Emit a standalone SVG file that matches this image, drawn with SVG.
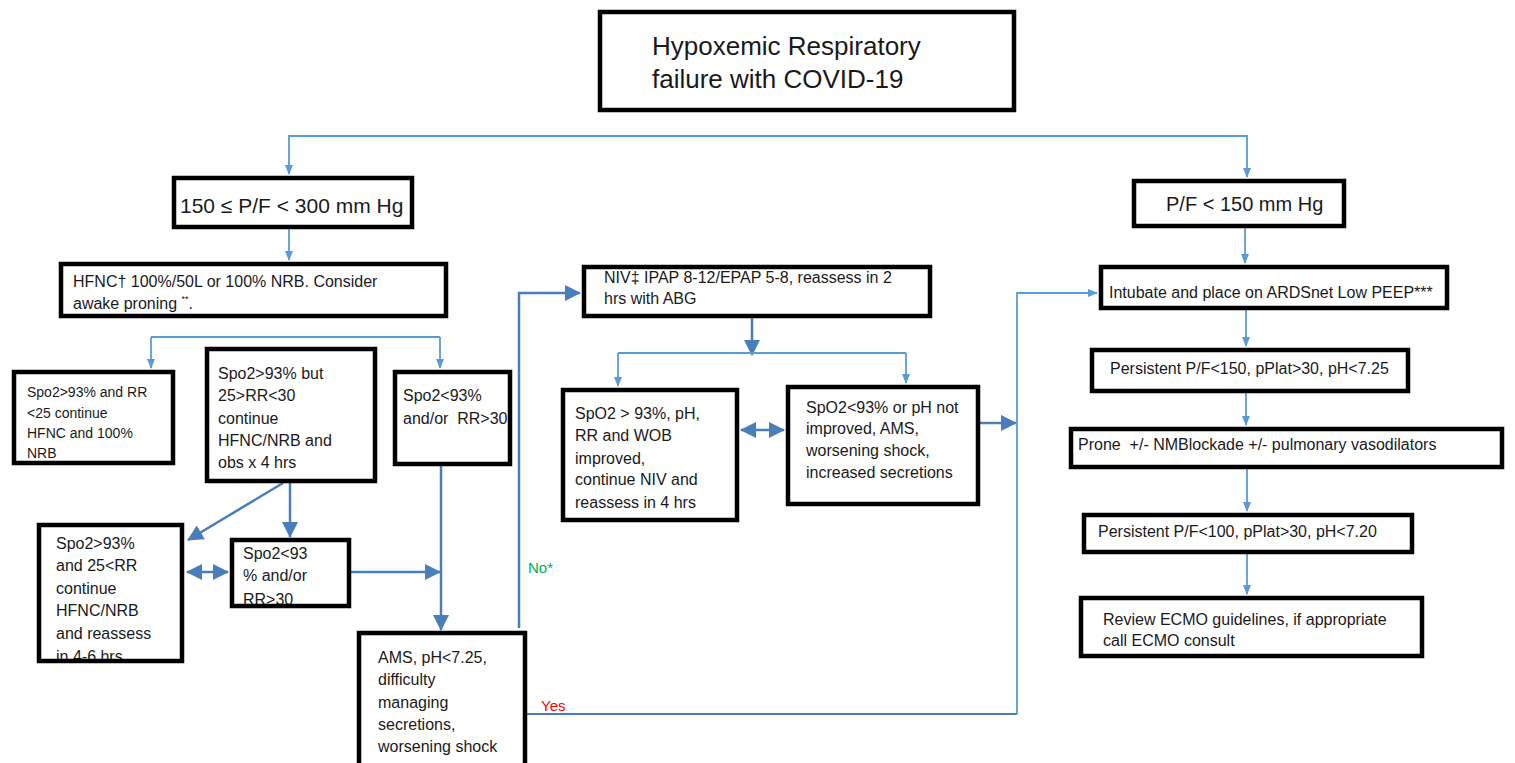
<svg xmlns="http://www.w3.org/2000/svg" width="1515" height="763" viewBox="0 0 1515 763">
<style>
.box{fill:#fff;stroke:#000;stroke-width:4.5}
.t{font-family:"Liberation Sans",Arial,sans-serif;font-size:16px;fill:#1a1a1a}
.s14{font-size:14px}
.lt{fill:none;stroke:#5b9bd5;stroke-width:1.8}
.dk{fill:none;stroke:#4a7ebb;stroke-width:2.5}
</style>
<defs>
<marker id="sm" markerUnits="userSpaceOnUse" markerWidth="10" markerHeight="10" viewBox="0 0 10 10" refX="9" refY="5" orient="auto-start-reverse"><path d="M0,1 L10,5 L0,9 z" fill="#5b9bd5"/></marker>
<marker id="lg" markerUnits="userSpaceOnUse" markerWidth="16" markerHeight="16" viewBox="0 0 16 16" refX="15" refY="8" orient="auto-start-reverse"><path d="M0,0 L16,8 L0,16 z" fill="#4a7ebb"/></marker>
</defs>
<rect width="1515" height="763" fill="#fff"/>
<g id="connectors">
<path class="lt" d="M700,136 H289 V174" marker-end="url(#sm)"/>
<path class="lt" d="M700,136 H1247 V177" marker-end="url(#sm)"/>
<path class="lt" d="M289,229 V260" marker-end="url(#sm)"/>
<path class="lt" d="M151,337 H440"/>
<path class="lt" d="M151,337 V368" marker-end="url(#sm)"/>
<path class="lt" d="M440,337 V368" marker-end="url(#sm)"/>
<path class="dk" d="M283,483 L188,540" marker-end="url(#lg)"/>
<path class="dk" d="M290,483 V537" marker-end="url(#lg)"/>
<path class="dk" d="M187,572 H228" marker-start="url(#lg)" marker-end="url(#lg)"/>
<path class="dk" d="M351,572 H440" marker-end="url(#lg)"/>
<path class="dk" d="M441,466 V630" marker-end="url(#lg)"/>
<path class="dk" d="M519,628 V293 H580" marker-end="url(#lg)"/>
<path class="dk" d="M752,318 V355" marker-end="url(#lg)"/>
<path class="lt" d="M618,353 H906"/>
<path class="lt" d="M618,353 V386" marker-end="url(#sm)"/>
<path class="lt" d="M906,353 V383" marker-end="url(#sm)"/>
<path class="dk" d="M741,430 H784" marker-start="url(#lg)" marker-end="url(#lg)"/>
<path class="dk" d="M980,423 H1016" marker-end="url(#lg)"/>
<path class="dk" d="M527,714 H1017" style="stroke-width:2"/>
<path class="lt" d="M1017,714 V293 H1097" marker-end="url(#sm)"/>
<path class="lt" d="M1245,228 V263" marker-end="url(#sm)"/>
<path class="lt" d="M1246,310 V346" marker-end="url(#sm)"/>
<path class="lt" d="M1246,393 V425" marker-end="url(#sm)"/>
<path class="lt" d="M1247,469 V511" marker-end="url(#sm)"/>
<path class="lt" d="M1247,554 V594" marker-end="url(#sm)"/>
<text class="t" x="528" y="573" style="fill:#00b050;font-size:15px">No*</text>
<text class="t" x="541" y="711" style="fill:#ff0000;font-size:15px">Yes</text>
</g>
<g id="title">
<rect class="box" x="600" y="12" width="414" height="98"/>
<text class="t" x="652" y="55" style="font-size:26px">Hypoxemic Respiratory</text>
<text class="t" x="652" y="88" style="font-size:26px">failure with COVID-19</text>
</g>
<g id="pf300">
<rect class="box" x="174" y="178" width="238" height="49"/>
<text class="t" x="180" y="213" style="font-size:21px">150 ≤ P/F &lt; 300 mm Hg</text>
</g>
<g id="hfnc">
<rect class="box" x="61" y="264" width="385" height="52"/>
<text class="t" x="73" y="287">HFNC† 100%/50L or 100% NRB. Consider</text>
<text class="t" x="73" y="309">awake proning <tspan style="font-size:9px" dy="-7">**</tspan><tspan dy="7">.</tspan></text>
</g>
<g id="b1">
<rect class="box" x="14" y="372" width="159" height="91"/>
<text class="t s14" x="27" y="397">Spo2&gt;93% and RR</text>
<text class="t s14" x="27" y="418">&lt;25 continue</text>
<text class="t s14" x="27" y="438">HFNC and 100%</text>
<text class="t s14" x="27" y="458">NRB</text>
</g>
<g id="b2">
<rect class="box" x="207" y="349" width="168" height="132"/>
<text class="t" x="218" y="379">Spo2&gt;93% but</text>
<text class="t" x="218" y="401">25&gt;RR&lt;30</text>
<text class="t" x="218" y="424">continue</text>
<text class="t" x="218" y="446">HFNC/NRB and</text>
<text class="t" x="218" y="468">obs x 4 hrs</text>
</g>
<g id="b3">
<rect class="box" x="395" y="372" width="115" height="92"/>
<text class="t" x="403" y="401">Spo2&lt;93%</text>
<text class="t" x="403" y="424" xml:space="preserve">and/or  RR&gt;30</text>
</g>
<g id="b4">
<text class="t" x="56" y="549">Spo2&gt;93%</text>
<text class="t" x="56" y="571">and 25&lt;RR</text>
<text class="t" x="56" y="594">continue</text>
<text class="t" x="56" y="616">HFNC/NRB</text>
<text class="t" x="56" y="639">and reassess</text>
<text class="t" x="56" y="662">in 4-6 hrs</text>
<rect class="box" x="39" y="525" width="143" height="136" style="fill:none"/>
</g>
<g id="b5">
<text class="t" x="243" y="559">Spo2&lt;93</text>
<text class="t" x="243" y="581">% and/or</text>
<text class="t" x="243" y="605">RR&gt;30</text>
<rect class="box" x="232" y="540" width="117" height="66" style="fill:none"/>
</g>
<g id="ams">
<rect class="box" x="359" y="633" width="166" height="140"/>
<text class="t" x="378" y="663">AMS, pH&lt;7.25,</text>
<text class="t" x="378" y="685">difficulty</text>
<text class="t" x="378" y="708">managing</text>
<text class="t" x="378" y="730">secretions,</text>
<text class="t" x="378" y="752">worsening shock</text>
</g>
<g id="niv">
<rect class="box" x="584" y="267" width="346" height="49"/>
<text class="t" x="604" y="283">NIV‡ IPAP 8-12/EPAP 5-8, reassess in 2</text>
<text class="t" x="604" y="304">hrs with ABG</text>
</g>
<g id="b6">
<rect class="box" x="563" y="390" width="174" height="130"/>
<text class="t" x="575" y="419">SpO2 &gt; 93%, pH,</text>
<text class="t" x="575" y="441">RR and WOB</text>
<text class="t" x="575" y="464">improved,</text>
<text class="t" x="575" y="485">continue NIV and</text>
<text class="t" x="575" y="508">reassess in 4 hrs</text>
</g>
<g id="b7">
<rect class="box" x="788" y="387" width="190" height="117"/>
<text class="t" x="806" y="413">SpO2&lt;93% or pH not</text>
<text class="t" x="806" y="434">improved, AMS,</text>
<text class="t" x="806" y="456">worsening shock,</text>
<text class="t" x="806" y="478">increased secretions</text>
</g>
<g id="pf150">
<rect class="box" x="1134" y="181" width="210" height="45"/>
<text class="t" x="1166" y="211" style="font-size:20px">P/F &lt; 150 mm Hg</text>
</g>
<g id="intubate">
<rect class="box" x="1101" y="267" width="346" height="41"/>
<text class="t" x="1109" y="298">Intubate and place on ARDSnet Low PEEP***</text>
</g>
<g id="pers150">
<rect class="box" x="1092" y="350" width="316" height="41"/>
<text class="t" x="1110" y="374">Persistent P/F&lt;150, pPlat&gt;30, pH&lt;7.25</text>
</g>
<g id="prone">
<rect class="box" x="1071" y="429" width="431" height="38"/>
<text class="t" x="1078" y="450" xml:space="preserve">Prone  +/- NMBlockade +/- pulmonary vasodilators</text>
</g>
<g id="pers100">
<rect class="box" x="1084" y="515" width="328" height="37"/>
<text class="t" x="1098" y="537">Persistent P/F&lt;100, pPlat&gt;30, pH&lt;7.20</text>
</g>
<g id="review">
<rect class="box" x="1081" y="598" width="341" height="58"/>
<text class="t" x="1103" y="625">Review ECMO guidelines, if appropriate</text>
<text class="t" x="1103" y="646">call ECMO consult</text>
</g>
</svg>
